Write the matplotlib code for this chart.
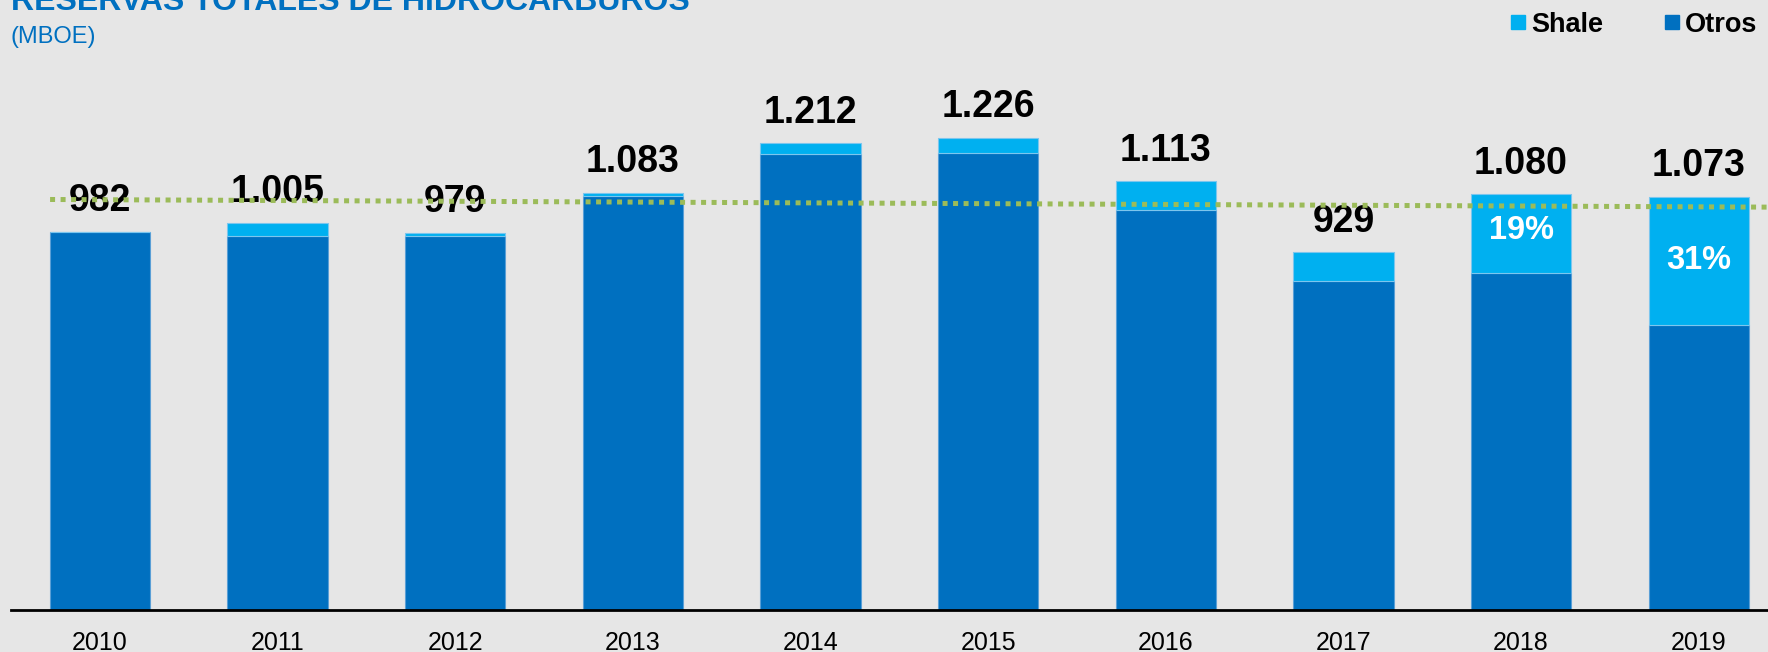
import matplotlib
matplotlib.use('Agg')
import matplotlib.pyplot as plt
from matplotlib.patches import Rectangle

plt.rcParams['font.family'] = ['Liberation Sans', 'DejaVu Sans']

# data (MBOE)
years = ['2010', '2011', '2012', '2013', '2014', '2015', '2016', '2017', '2018', '2019']
totals = [982, 1005, 979, 1083, 1212, 1226, 1113, 929, 1080, 1073]
shale = [0, 35, 8, 8, 28, 40, 74, 75, 205, 333]
shale_pct = {'2018': '19%', '2019': '31%'}
# dotted reference line (start / end)
ref_x = [-0.28, 9.45]
ref_y = [1066, 1046]

otros = [t - s for t, s in zip(totals, shale)]

c_otros = '#0070C0'
c_shale = '#00B0F0'
bg = '#E6E6E6'

fig = plt.figure(figsize=(17.68, 6.52), dpi=100, facecolor=bg)
ax = fig.add_axes([11 / 1768, 42 / 652, 1 - 11 / 1768, 610 / 652])
ax.set_facecolor(bg)

x = list(range(len(years)))
w = 0.565
ax.bar(x, otros, w, color=c_otros, edgecolor='#5A9FD6', linewidth=0.8, zorder=2)
ax.bar(x, shale, w, bottom=otros, color=c_shale, edgecolor='#7CC6EE', linewidth=0.8, zorder=2)

# totals above the bars
for i, t in enumerate(totals):
    lbl = f'{t:,}'.replace(',', '.')
    ax.annotate(lbl, (i, t), xytext=(0, 9), textcoords='offset points',
                ha='center', va='bottom', fontsize=27, fontweight='bold', color='black', zorder=4)

# shale share inside the last bars
for i, y in enumerate(years):
    if y in shale_pct:
        yy = otros[i] + shale[i] / 2
        if y == '2018':
            yy += 8
        ax.text(i, yy, shale_pct[y], ha='center', va='center',
                fontsize=23.5, fontweight='bold', color='white', zorder=3)

ax.plot(ref_x, ref_y, color='#9BBB59', linewidth=3.6, linestyle=(0, (1, 1.1)),
        dash_capstyle='butt', zorder=5, clip_on=True)

ax.set_xlim(-0.5, 9.39)
ax.set_ylim(0, 1584)
ax.set_xticks(x)
ax.set_xticklabels(years, fontsize=18)
ax.tick_params(axis='x', length=0, pad=15)
ax.set_yticks([])
for s in ['top', 'right', 'left']:
    ax.spines[s].set_visible(False)
ax.spines['bottom'].set_color('black')
ax.spines['bottom'].set_linewidth(2)

# title (runs off the top edge)
fig.text(11 / 1768, 1 - 10 / 652, 'RESERVAS TOTALES DE HIDROCARBUROS', color=c_otros,
         fontsize=23, fontweight='bold', ha='left', va='baseline')
fig.text(11 / 1768, 1 - 43 / 652, '(MBOE)', color=c_otros, fontsize=17, ha='left', va='baseline')

# legend
for px, col, name in [(1511, c_shale, 'Shale'), (1665, c_otros, 'Otros')]:
    fig.patches.append(Rectangle((px / 1768, 1 - 29 / 652), 14 / 1768, 14 / 652,
                                 transform=fig.transFigure, color=col))
    fig.text((px + 20) / 1768, 1 - 32 / 652, name, fontsize=19.5, fontweight='bold',
             ha='left', va='baseline', color='black')

fig.savefig('out.png', dpi=100, facecolor=bg)
